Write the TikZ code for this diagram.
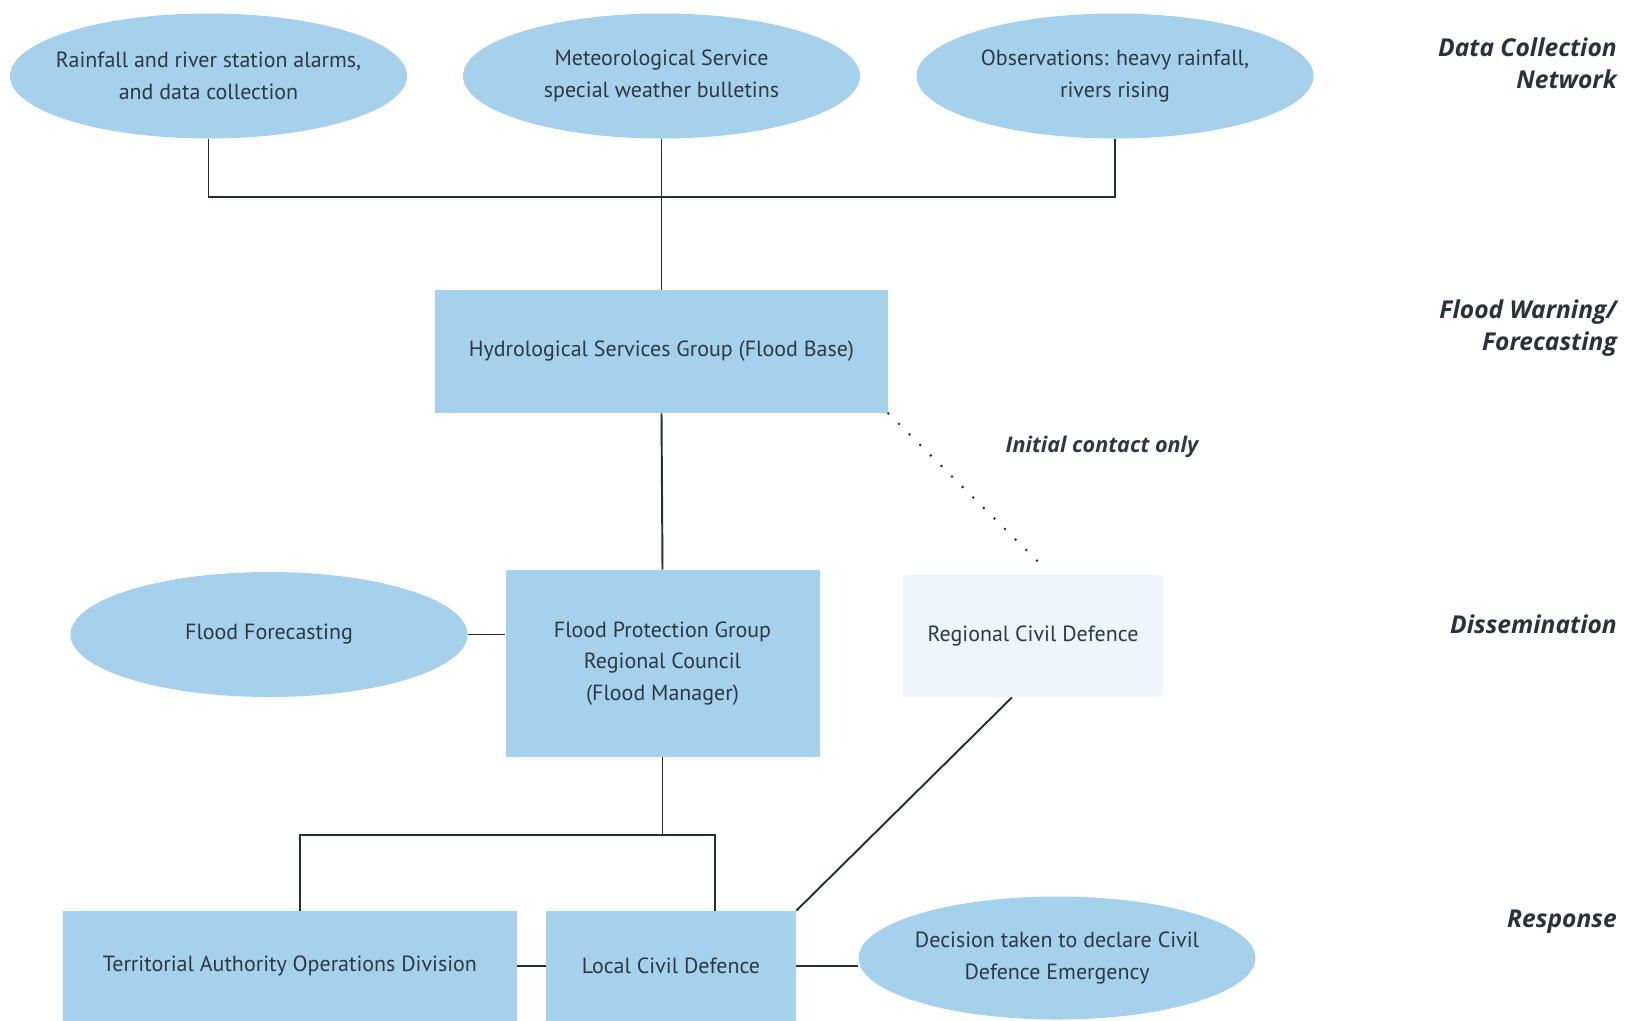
\documentclass[tikz,border=0pt]{standalone}
\usepackage{fontspec}
\setmainfont{PT Sans}
\newfontfamily\stagefont{Open Sans}
\usetikzlibrary{positioning,shapes.geometric}

\definecolor{floodblue}{RGB}{165,209,236}
\definecolor{paleblue}{RGB}{238,246,251}
\definecolor{inkgrey}{RGB}{46,56,66}

\begin{document}
\begin{tikzpicture}[
  font=\fontsize{12.5}{18}\selectfont, text=inkgrey,
  oval/.style={ellipse, fill=floodblue, minimum width=7.94cm, minimum height=2.5cm, align=center, inner xsep=-0.6cm, inner ysep=0pt},
  box/.style={rectangle, fill=floodblue, align=center, inner sep=0pt},
  stage/.style={anchor=east, align=right, font=\stagefont\fontsize{14}{18}\selectfont\bfseries\itshape, text=inkgrey!90!black},
  link/.style={draw=inkgrey!80!black, line width=1.1pt}
]
\useasboundingbox (0,0) rectangle (32.62,-20.4);

% nodes
\node[oval] (rain) at (4.17, -1.52) {Rainfall and river station alarms,\\and data collection};
\node[oval] (met) at (13.23, -1.52) {Meteorological Service\\special weather bulletins};
\node[oval] (obs) at (22.3, -1.52) {Observations: heavy rainfall,\\rivers rising};

\node[box, minimum width=9.06cm, minimum height=2.46cm] (hsg) at (13.23, -7.03) {Hydrological Services Group (Flood Base)};

\node[oval] (ff) at (5.38, -12.69) {Flood Forecasting};
\node[box, minimum width=6.28cm, minimum height=3.74cm] (fpg) at (13.25, -13.27) {Flood Protection Group\\Regional Council\\(Flood Manager)};
\node[box, fill=paleblue, minimum width=5.2cm, minimum height=2.44cm] (rcd) at (20.66, -12.72) {Regional Civil Defence};

\node[box, minimum width=9.08cm, minimum height=2.2cm] (taod) at (5.8, -19.32) {Territorial Authority Operations Division};
\node[box, minimum width=5.0cm, minimum height=2.2cm] (lcd) at (13.42, -19.32) {Local Civil Defence};
\node[oval, minimum height=2.46cm] (dec) at (21.14, -19.16) {Decision taken to declare Civil\\Defence Emergency};

\node[font=\stagefont\fontsize{12.3}{14}\selectfont\bfseries\itshape] (contact) at (22.04, -8.94) {Initial contact only};

\node[stage] (dc) at (32.46, -1.26) {Data Collection\\Network};
\node[stage] (fw) at (32.46, -6.56) {Flood Warning/\\Forecasting};
\node[stage] (dis) at (32.46, -12.48) {Dissemination};
\node[stage] (resp) at (32.46, -18.44) {Response};

\coordinate (bus) at (13.23, -3.94);
\coordinate (split) at (13.25, -16.7);

% lines
\draw[link] (rain.south) |- (bus) -| (obs.south);
\draw[link] (met.south) -- (hsg.north);
\draw[link] (hsg.south) -- (fpg.north);
\draw[link] (ff.east) -- (ff.east -| fpg.west);
\draw[link, line width=1.6pt, line cap=round, dash pattern=on 0pt off 8.5pt] (hsg.south east) -- ([xshift=0.26cm, yshift=0.1cm]rcd.north);
\draw[link] (fpg.south) -- (split);
\draw[link] ([xshift=0.2cm]taod.north) |- (split) -| ([xshift=0.88cm]lcd.north);
\draw[link] ([xshift=-0.42cm]rcd.south) -- (lcd.north east);
\draw[link] (taod.east) -- (lcd.west);
\draw[link] (lcd.east) -- (lcd.east -| dec.west);

\end{tikzpicture}
\end{document}
